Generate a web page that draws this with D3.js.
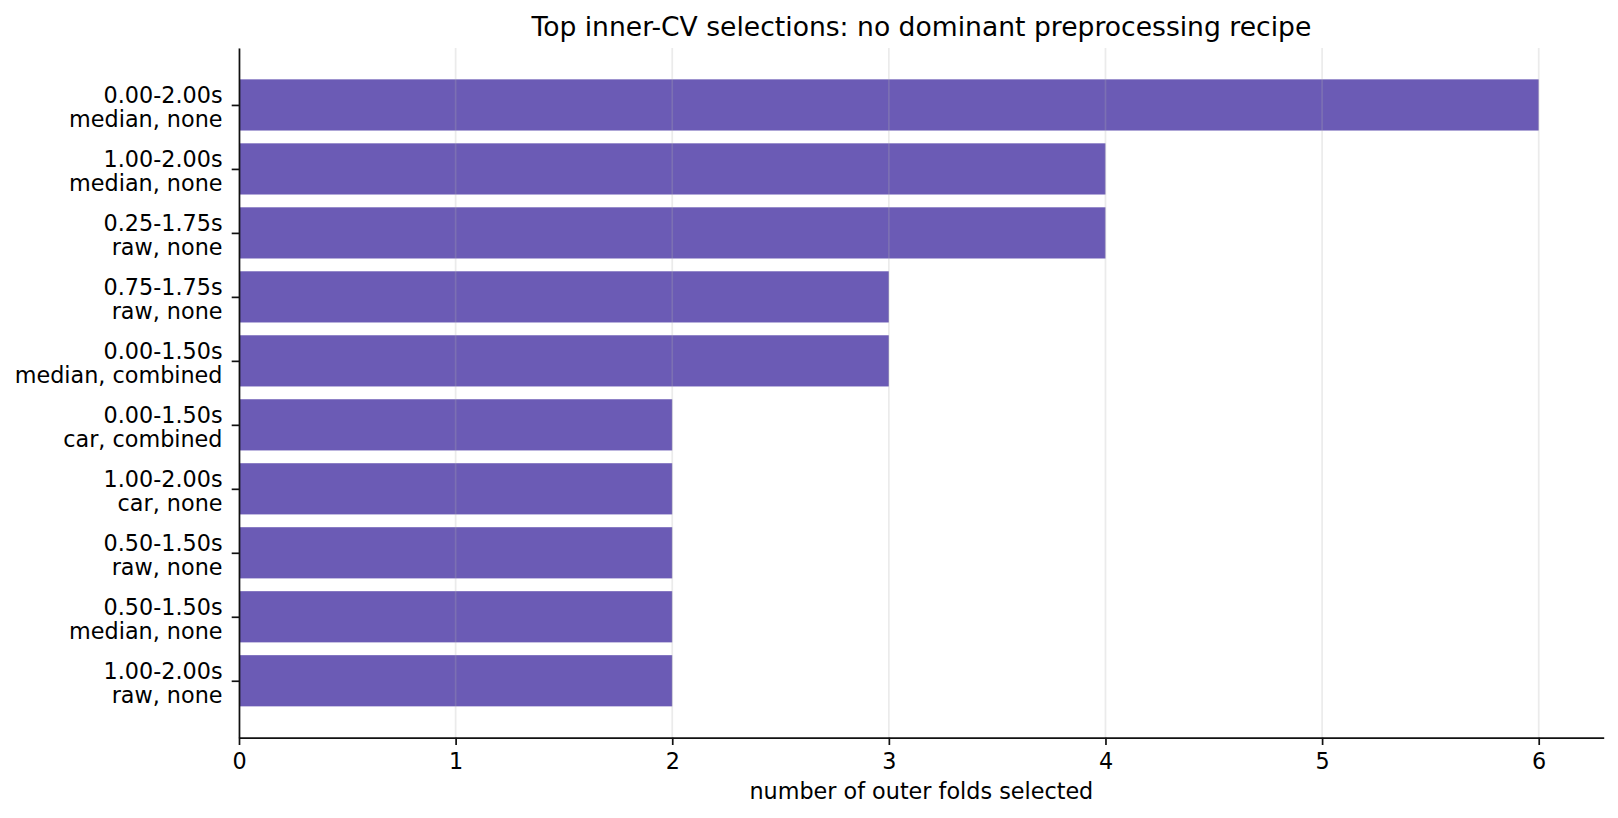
<!DOCTYPE html>
<html>
<head>
<meta charset="utf-8">
<script src="https://cdn.jsdelivr.net/npm/d3@7"></script>
<style>
  body { margin: 0; background: #fff; }
  text { font-family: "DejaVu Sans", sans-serif; fill: #000; }
</style>
</head>
<body>
<script>
// Top selections, in display order (top to bottom)
const windows = ["0.00-2.00s", "1.00-2.00s", "0.25-1.75s", "0.75-1.75s", "0.00-1.50s",
                 "0.00-1.50s", "1.00-2.00s", "0.50-1.50s", "0.50-1.50s", "1.00-2.00s"];
const recipes = ["median, none", "median, none", "raw, none", "raw, none", "median, combined",
                 "car, combined", "car, none", "raw, none", "median, none", "raw, none"];
const counts = [6, 4, 4, 3, 3, 2, 2, 2, 2, 2];
const xTicks = [0, 1, 2, 3, 4, 5, 6];

const width = 1618, height = 818;
const margin = { top: 48, right: 14.3, bottom: 80.3, left: 239 };
const fs = 22.3;

const svg = d3.select("body").append("svg")
    .attr("width", width)
    .attr("height", height);

// x: 0 .. 6.3 (5% margin on the right only)
const xScale = d3.scaleLinear()
    .domain([0, 6.3])
    .range([margin.left, width - margin.right]);

// y: bar centres at 0..9, bars 0.8 tall, 5% padding
const yScale = d3.scaleLinear()
    .domain([-0.89, 9.89])
    .range([margin.top, height - margin.bottom]);

const idx = d3.range(counts.length);

// bars
svg.append("g")
  .selectAll("rect")
  .data(idx)
  .enter().append("rect")
    .attr("x", xScale(0))
    .attr("y", i => yScale(i - 0.4))
    .attr("width", i => xScale(counts[i]) - xScale(0))
    .attr("height", yScale(0.4) - yScale(-0.4))
    .attr("fill", "#6b5bb5");

// vertical grid on top, faint
svg.append("g")
  .selectAll("line")
  .data(xTicks)
  .enter().append("line")
    .attr("x1", d => xScale(d)).attr("x2", d => xScale(d))
    .attr("y1", margin.top).attr("y2", height - margin.bottom)
    .attr("stroke", "#b0b0b0")
    .attr("stroke-opacity", 0.25)
    .attr("stroke-width", 1.7);

// x axis
const xAxis = d3.axisBottom(xScale)
    .tickValues(xTicks)
    .tickFormat(d3.format("d"))
    .tickSize(7.3)
    .tickSizeOuter(0)
    .tickPadding(8.5);

const gx = svg.append("g")
    .attr("transform", `translate(0,${height - margin.bottom})`)
    .call(xAxis);
gx.select(".domain").attr("stroke", "#111").attr("stroke-width", 1.7);
gx.selectAll(".tick line").attr("stroke", "#111").attr("stroke-width", 1.7);
gx.selectAll(".tick text")
    .attr("font-size", fs + "px")
    .attr("font-family", "DejaVu Sans, sans-serif")
    .attr("fill", "#000");

// y axis
const yAxis = d3.axisLeft(yScale)
    .tickValues(idx)
    .tickFormat("")
    .tickSize(7.3)
    .tickSizeOuter(0);

const gy = svg.append("g")
    .attr("transform", `translate(${margin.left},0)`)
    .call(yAxis);
gy.select(".domain").attr("stroke", "#111").attr("stroke-width", 1.7);
gy.selectAll(".tick line").attr("stroke", "#111").attr("stroke-width", 1.7);

// two-line tick labels
const labels = svg.append("g")
  .selectAll("text")
  .data(idx)
  .enter().append("text")
    .attr("text-anchor", "end")
    .attr("font-size", fs + "px")
    .attr("y", i => yScale(i) - 1.5);
labels.append("tspan")
    .attr("x", margin.left - 16.5)
    .text(i => windows[i]);
labels.append("tspan")
    .attr("x", margin.left - 16.5)
    .attr("dy", 23.6)
    .text(i => recipes[i]);

// x label
svg.append("text")
    .attr("x", (margin.left + width - margin.right) / 2)
    .attr("y", 799.3)
    .attr("text-anchor", "middle")
    .attr("font-size", fs + "px")
    .text("number of outer folds selected");

// title
svg.append("text")
    .attr("x", (margin.left + width - margin.right) / 2)
    .attr("y", 36)
    .attr("text-anchor", "middle")
    .attr("font-size", "26.6px")
    .text("Top inner-CV selections: no dominant preprocessing recipe");
</script>
</body>
</html>
